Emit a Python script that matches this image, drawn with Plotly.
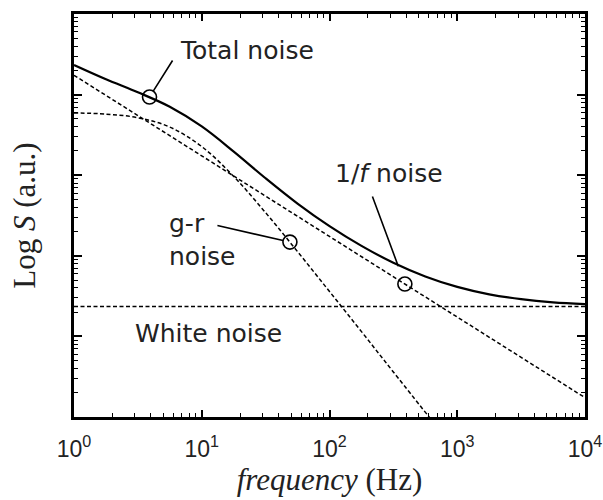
import numpy as np
import plotly.graph_objects as go

# Frequencies (Hz) at which the curves are sampled
freq = [1, 1.78, 3.16, 5.62, 10, 17.8, 31.6, 56.2, 100, 178, 316, 562,
        1000, 1780, 3160, 5620, 10000]

# log10 of the spectral density for each contribution
log_total = [4.368, 4.191, 4.029, 3.849, 3.605, 3.293, 2.962, 2.648, 2.368,
             2.123, 1.914, 1.744, 1.614, 1.522, 1.462, 1.423, 1.401]
freq_gr = [1, 1.78, 3.16, 5.62, 10, 17.8, 31.6, 56.2, 100, 178, 316, 1000]
log_gr = [3.773, 3.758, 3.713, 3.597, 3.355, 2.984, 2.535, 2.052, 1.557,
          1.059, 0.559, -0.44]
freq_1f = [1, 10000]
log_1f = [4.24, 0.24]
freq_white = [1, 10000]
log_white = [1.37, 1.37]

# Marked points on the curves (total, g-r, 1/f)
mark_freq = [3.9, 49, 389]
mark_log = [3.97, 2.17, 1.65]

tick_vals = [1, 10, 100, 1000, 10000]
tick_text = ["10<sup>0</sup>", "10<sup>1</sup>", "10<sup>2</sup>",
             "10<sup>3</sup>", "10<sup>4</sup>"]


def pw(v):
    return [10 ** x for x in v]


dash = "4px,2.5px"
fig = go.Figure()
fig.add_trace(go.Scatter(x=freq_white, y=pw(log_white), mode="lines",
                         line=dict(color="black", width=1.5, dash=dash)))
fig.add_trace(go.Scatter(x=freq_1f, y=pw(log_1f), mode="lines",
                         line=dict(color="black", width=1.5, dash=dash)))
fig.add_trace(go.Scatter(x=freq_gr, y=pw(log_gr), mode="lines",
                         line=dict(color="black", width=1.5, dash=dash,
                                   shape="spline")))
fig.add_trace(go.Scatter(x=freq, y=pw(log_total), mode="lines",
                         line=dict(color="black", width=2.2, shape="spline")))
fig.add_trace(go.Scatter(x=mark_freq, y=pw(mark_log), mode="markers",
                         marker=dict(symbol="circle-open", size=14,
                                     color="black", line=dict(width=1.6))))
# carrier for the tick-only overlay axes
fig.add_trace(go.Scatter(x=[1], y=[1], xaxis="x2", yaxis="y2",
                         mode="markers", marker=dict(opacity=0),
                         hoverinfo="skip"))

txt_font = dict(family="DejaVu Sans", size=25, color="#222")
annotations = [
    dict(x=np.log10(6.55), y=4.55, text="Total noise"),
    dict(x=np.log10(5.35), y=2.2, text="g-r<br>noise", align="left"),
    dict(x=np.log10(107), y=3.02, text="1/<i>f</i> noise"),
    dict(x=np.log10(2.9), y=1.03, text="White noise"),
]
for a in annotations:
    a.update(xref="x", yref="y", showarrow=False, font=txt_font,
             xanchor="left", yanchor="middle")

# Leader lines from the labels to the marked points
leaders = [(0, 24, -38, 7), (1, -74, -17, 7), (2, -33, -89, 19)]
for i, ax, ay, so in leaders:
    annotations.append(dict(
        x=np.log10(mark_freq[i]), y=mark_log[i], xref="x", yref="y",
        text="", showarrow=True, arrowhead=0, arrowwidth=1.6,
        arrowcolor="black", ax=ax, ay=ay, standoff=so))

fig.update_layout(
    width=603, height=500,
    margin=dict(l=74, r=18, t=14, b=83, autoexpand=False),
    paper_bgcolor="white", plot_bgcolor="white",
    showlegend=False,
    annotations=annotations,
)

clear = "rgba(0,0,0,0)"
fig.update_layout(
    # labelled axes: frame lines, labels and titles
    xaxis=dict(
        type="log", range=[0, 4], tickmode="array", tickvals=tick_vals,
        ticktext=tick_text, ticks="outside", ticklen=9, tickcolor=clear,
        showline=True, linewidth=3, linecolor="black", mirror=True,
        showgrid=False, zeroline=False, automargin=False,
        tickfont=dict(family="Liberation Sans", size=23, color="#222"),
        title=dict(text="<i>frequency</i> (Hz)", standoff=4,
                   font=dict(family="Liberation Serif", size=31,
                             color="#222"))),
    yaxis=dict(
        type="log", range=[0, 5], showticklabels=False, ticks="",
        showline=True, linewidth=3, linecolor="black", mirror=True,
        showgrid=False, zeroline=False, automargin=False,
        title=dict(text="Log <i>S</i> (a.u.)", standoff=27,
                   font=dict(family="Liberation Serif", size=31,
                             color="#222"))),
    # tick-only axes, drawn on all four sides
    xaxis2=dict(
        type="log", range=[0, 4], overlaying="x", side="bottom",
        anchor="y2", tickmode="array", tickvals=tick_vals,
        showticklabels=False, ticks="inside", ticklen=7, tickwidth=1.5,
        tickcolor="black", mirror="allticks", showline=False,
        automargin=False,
        minor=dict(ticks="inside", ticklen=4, tickwidth=1.3, dtick="D1",
                   tickcolor="black"),
        showgrid=False, zeroline=False),
    yaxis2=dict(
        type="log", range=[0, 5], overlaying="y", side="left",
        anchor="x2", dtick=1, showticklabels=False, ticks="inside",
        ticklen=8, tickwidth=1.5, tickcolor="black", mirror="allticks",
        showline=False, automargin=False,
        minor=dict(ticks="inside", ticklen=4, tickwidth=1.3, dtick="D1",
                   tickcolor="black"),
        showgrid=False, zeroline=False),
)

fig.write_html("out.html")
